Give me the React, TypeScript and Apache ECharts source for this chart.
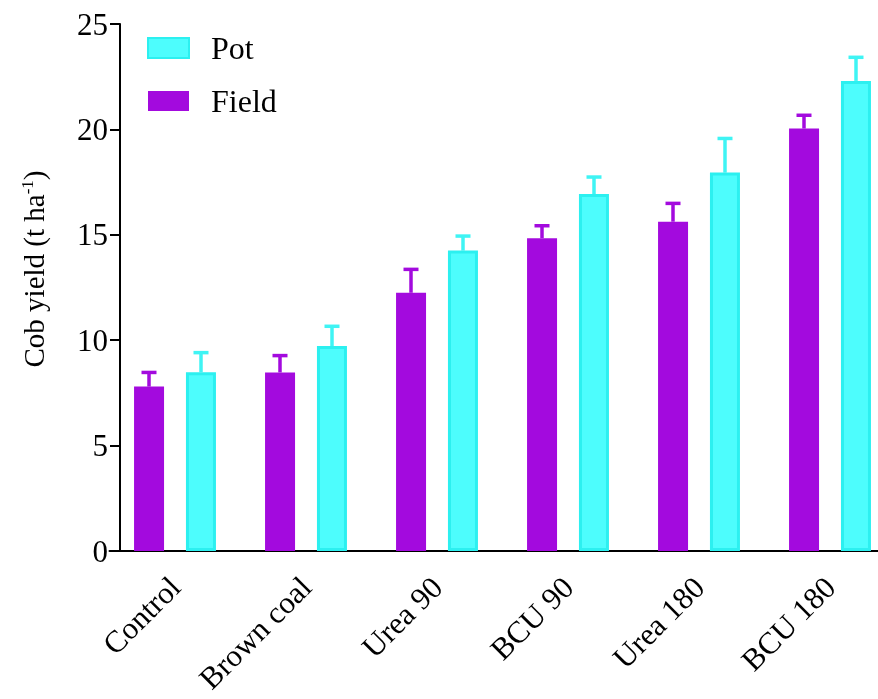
import React, { useEffect, useRef } from "react";
import * as echarts from "echarts";

const categories = ["Control", "Brown coal", "Urea 90", "BCU 90", "Urea 180", "BCU 180"];
const fieldMean = [7.8, 8.47, 12.25, 14.84, 15.62, 20.04];
const fieldSd = [0.67, 0.8, 1.11, 0.59, 0.87, 0.63];
const potMean = [8.48, 9.72, 14.25, 16.93, 17.95, 22.3];
const potSd = [0.93, 0.94, 0.69, 0.81, 1.62, 1.12];
const yTicks = [0, 5, 10, 15, 20, 25];

const FIELD = "#a30ade";
const POT_FILL = "#4dfdfd";
const POT_BORDER = "#2cf0f0";
const FONT = "Liberation Serif";

export default function App() {
  const ref = useRef<HTMLDivElement>(null);
  useEffect(() => {
    if (!ref.current) return;
    const chart = echarts.init(ref.current, null, { renderer: "svg" });

    const errSeries = (name: string, means: number[], sds: number[], offset: number, color: string) => ({
      type: "custom",
      name: name + " error",
      z: 1,
      silent: true,
      data: means.map((m, i) => [i, m, m + sds[i]]),
      encode: { x: 0, y: [1, 2] },
      renderItem: (params: any, api: any) => {
        const p0 = api.coord([api.value(0), api.value(1)]);
        const p1 = api.coord([api.value(0), api.value(2)]);
        const x = p0[0] + offset;
        const st = { stroke: color, lineWidth: 3.5 };
        return {
          type: "group",
          children: [
            { type: "line", shape: { x1: x, y1: p0[1], x2: x, y2: p1[1] }, style: st },
            { type: "line", shape: { x1: x - 7.5, y1: p1[1], x2: x + 7.5, y2: p1[1] }, style: st },
          ],
        };
      },
    });

    chart.setOption({
      animation: false,
      textStyle: { fontFamily: FONT },
      grid: { left: 109.5, top: 24, width: 786, height: 527, containLabel: false },
      legend: {
        orient: "vertical",
        left: 142,
        top: 27,
        icon: "rect",
        itemWidth: 41,
        itemHeight: 20,
        itemGap: 21,
        data: ["Pot", "Field"],
        textStyle: { fontFamily: FONT, fontSize: 32, color: "#000", padding: [0, 0, 0, 17] },
      },
      xAxis: {
        type: "category",
        data: categories,
        axisLine: { lineStyle: { color: "#000", width: 2 } },
        axisTick: { alignWithLabel: true, length: 10, lineStyle: { color: "#000", width: 2 } },
        axisLabel: { rotate: 45, margin: 31, fontFamily: FONT, fontSize: 31, color: "#000" },
      },
      yAxis: {
        type: "value",
        min: 0,
        max: 25,
        interval: 5,
        offset: -10.5,
        splitLine: { show: false },
        axisLine: { show: true, lineStyle: { color: "#000", width: 2 } },
        axisTick: { show: true, length: 10, lineStyle: { color: "#000", width: 2 } },
        axisLabel: {
          margin: 12,
          fontFamily: FONT,
          fontSize: 31,
          color: "#000",
          formatter: (v: number) => (yTicks.includes(v) ? String(v) : ""),
        },
      },
      graphic: [
        {
          type: "text",
          x: 34,
          y: 269,
          rotation: Math.PI / 2,
          style: {
            text: "Cob yield (t ha{sup|-1})",
            fontFamily: FONT,
            fontSize: 29,
            fill: "#000",
            align: "center",
            verticalAlign: "middle",
            rich: {
              sup: { fontFamily: FONT, fontSize: 17, fill: "#000", verticalAlign: "bottom", padding: [0, 0, 14, 0] },
            },
          },
        },
      ],
      series: [
        {
          type: "bar",
          name: "Field",
          data: fieldMean,
          barWidth: 30,
          barGap: "73%",
          z: 2,
          itemStyle: { color: FIELD },
        },
        {
          type: "bar",
          name: "Pot",
          data: potMean,
          barWidth: 30,
          z: 2,
          itemStyle: { color: POT_FILL, borderColor: POT_BORDER, borderWidth: 3 },
        },
        errSeries("Field", fieldMean, fieldSd, -26, FIELD),
        errSeries("Pot", potMean, potSd, 26, "#3ff4f4"),
      ],
    });
    return () => chart.dispose();
  }, []);
  return <div ref={ref} style={{ position: "fixed", left: 0, top: 0, width: 900, height: 699 }} />;
}
